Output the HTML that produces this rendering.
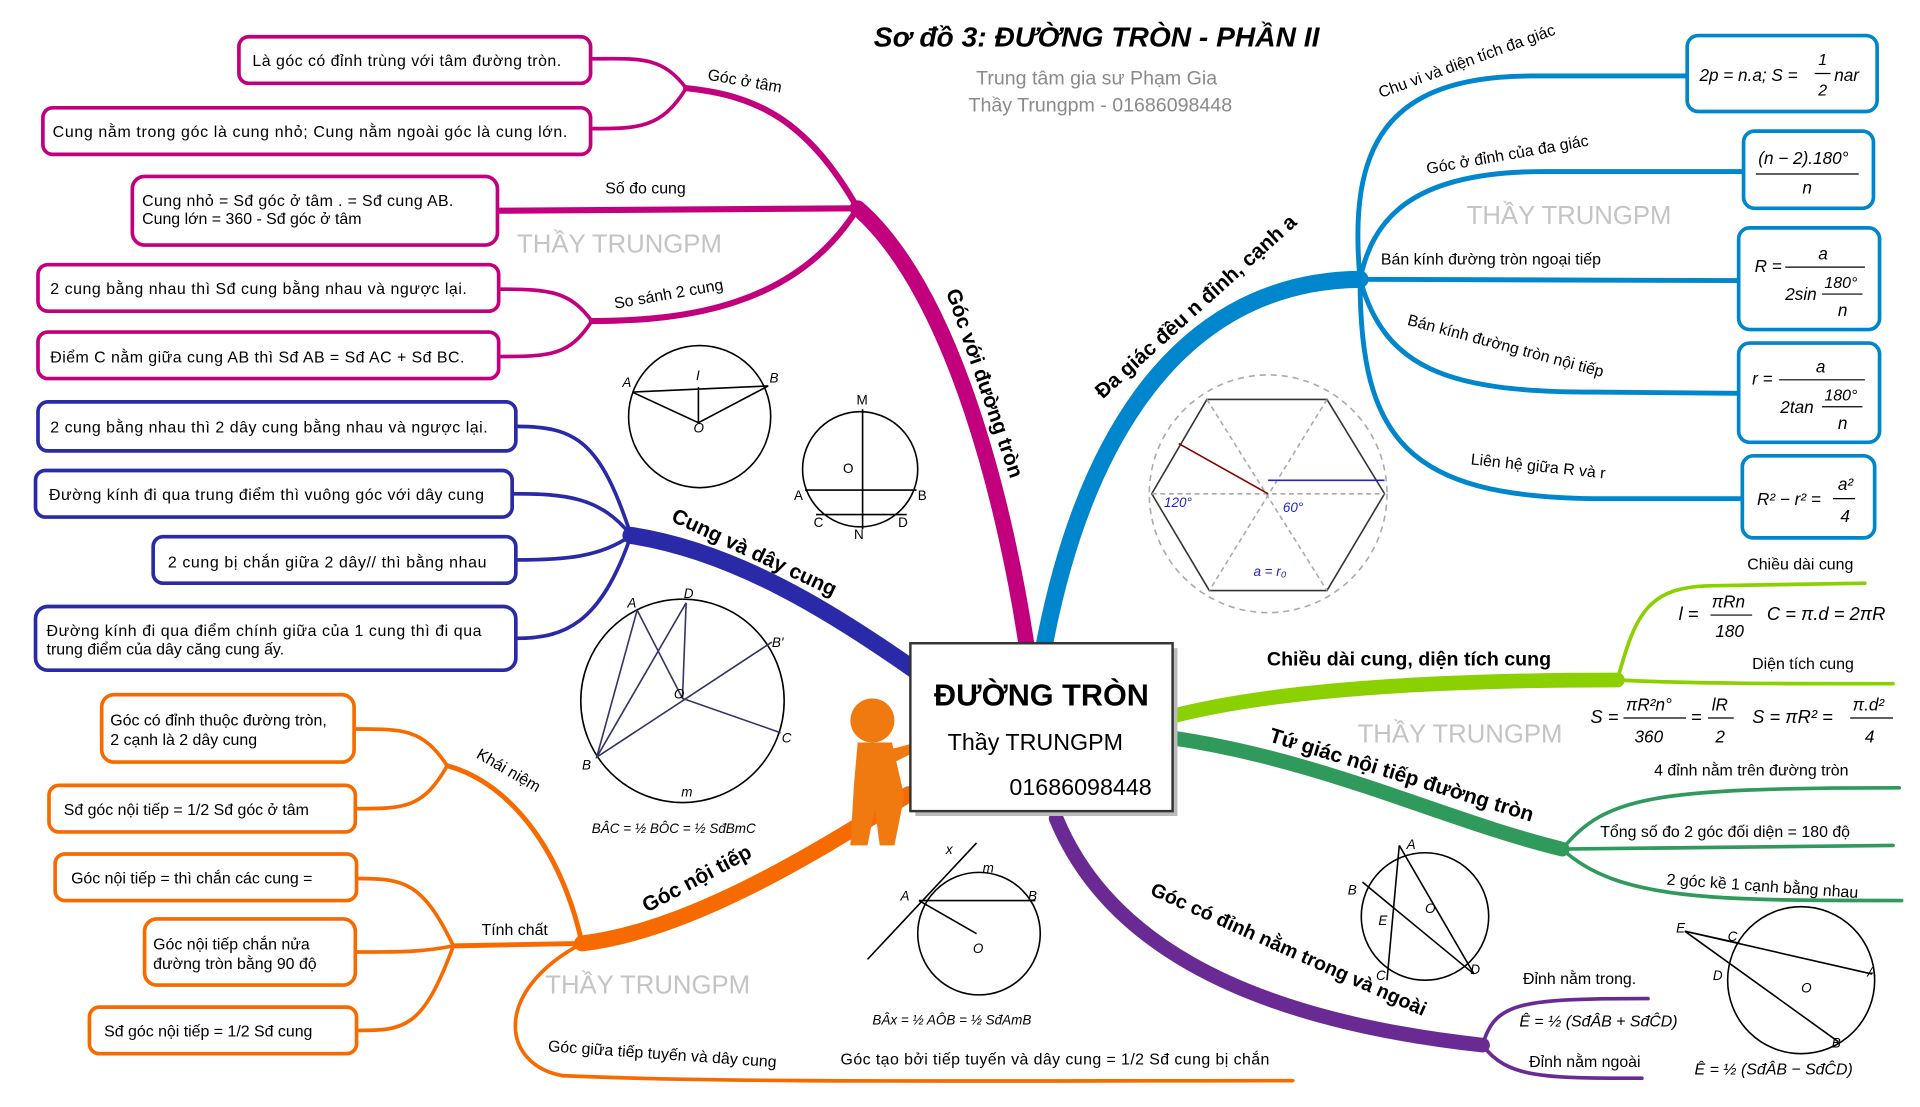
<!DOCTYPE html>
<html><head><meta charset="utf-8"><style>
html,body{margin:0;padding:0;background:#fff;}
svg{display:block}
text{font-family:"Liberation Sans",sans-serif;}
.m{font-family:"Liberation Serif",serif;font-style:italic;}
</style></head><body>
<svg width="1920" height="1107" viewBox="0 0 1567 903.5" preserveAspectRatio="none" xmlns="http://www.w3.org/2000/svg">
<rect width="1567" height="904" fill="#fff"/>
<text x="895" y="38" text-anchor="middle" font-size="23" font-weight="bold" font-style="italic">Sơ đồ 3: ĐƯỜNG TRÒN - PHẦN II</text>
<text x="895" y="69" text-anchor="middle" font-size="16" fill="#8a8a8a">Trung tâm gia sư Phạm Gia</text>
<text x="898" y="91" text-anchor="middle" font-size="16" fill="#8a8a8a">Thầy Trungpm - 01686098448</text>
<g font-size="21" fill="#c4c4c4">
<text x="422" y="206">THẦY TRUNGPM</text>
<text x="1197" y="183">THẦY TRUNGPM</text>
<text x="1108" y="606">THẦY TRUNGPM</text>
<text x="445" y="811">THẦY TRUNGPM</text>
</g>

<!-- MAGENTA -->
<g fill="none" stroke="#c2007e" stroke-linecap="round">
<path d="M 838 528 C 822 420, 780 240, 700 170" stroke-width="13"/>
<path d="M 700 170 C 660 100, 620 78, 560 72" stroke-width="5"/>
<path d="M 560 72 C 540 45, 520 48, 483 48" stroke-width="3"/>
<path d="M 560 72 C 540 105, 520 105, 483 105" stroke-width="3"/>
<path d="M 700 170 L 407 172" stroke-width="5"/>
<path d="M 700 170 C 650 250, 560 262, 483 262" stroke-width="5"/>
<path d="M 483 262 C 465 238, 450 236, 407 236" stroke-width="3"/>
<path d="M 483 262 C 465 290, 450 291, 407 291" stroke-width="3"/>
</g>
<g fill="#fff" stroke="#c2007e" stroke-width="3">
<rect x="195" y="30" width="287" height="38" rx="8"/>
<rect x="35" y="88" width="447" height="38" rx="8"/>
<rect x="108" y="144" width="298" height="56" rx="10"/>
<rect x="31" y="216" width="376" height="38" rx="8"/>
<rect x="31" y="271" width="376" height="38" rx="8"/>
</g>
<g font-size="13">
<text x="206" y="54" textLength="252">Là góc có đỉnh trùng với tâm đường tròn.</text>
<text x="43" y="112" textLength="420">Cung nằm trong góc là cung nhỏ; Cung nằm ngoài góc là cung lớn.</text>
<text x="116" y="168" textLength="254">Cung nhỏ = Sđ góc ở tâm . = Sđ cung AB.</text>
<text x="116" y="183">Cung lớn = 360 - Sđ góc ở tâm</text>
<text x="41" y="240" textLength="340">2 cung bằng nhau thì Sđ cung bằng nhau và ngược lại.</text>
<text x="41" y="296" textLength="338">Điểm C nằm giữa cung AB thì Sđ AB = Sđ AC + Sđ BC.</text>
<text x="577" y="65" transform="rotate(10 577 65)">Góc ở tâm</text>
<text x="494" y="158">Số đo cung</text>
<text x="502" y="252" transform="rotate(-10 502 252)">So sánh 2 cung</text>
</g>
<text x="772" y="238" font-size="17" font-weight="bold" transform="rotate(71 772 238)">Góc với đường tròn</text>

<!-- NAVY -->
<g fill="none" stroke="#2a2aa8" stroke-linecap="round">
<path d="M 748 548 C 680 500, 600 450, 515 437" stroke-width="14"/>
<path d="M 515 437 C 490 360, 470 348, 421 348" stroke-width="3"/>
<path d="M 515 437 C 490 405, 460 403, 418 403" stroke-width="3"/>
<path d="M 515 437 C 490 455, 460 457, 421 457" stroke-width="3"/>
<path d="M 515 437 C 490 510, 460 521, 421 521" stroke-width="3"/>
</g>
<g fill="#fff" stroke="#2a2aa8" stroke-width="3">
<rect x="31" y="328" width="390" height="40" rx="8"/>
<rect x="29" y="384" width="389" height="38" rx="8"/>
<rect x="125" y="438" width="296" height="38" rx="8"/>
<rect x="29" y="495" width="392" height="52" rx="10"/>
</g>
<g font-size="13">
<text x="41" y="353" textLength="357">2 cung bằng nhau thì 2 dây cung bằng nhau và ngược lại.</text>
<text x="40" y="408" textLength="355">Đường kính đi qua trung điểm thì vuông góc với dây cung</text>
<text x="137" y="463" textLength="260">2 cung bị chắn giữa 2 dây// thì bằng nhau</text>
<text x="38" y="519" textLength="355">Đường kính đi qua điểm chính giữa của 1 cung thì đi qua</text>
<text x="38" y="534">trung điểm của dây căng cung ấy.</text>
</g>
<text x="547" y="425" font-size="17" font-weight="bold" transform="rotate(25 547 425)">Cung và dây cung</text>

<!-- ORANGE -->
<g fill="none" stroke="#f76a00" stroke-linecap="round">
<path d="M 742 648 C 660 700, 560 760, 475 770" stroke-width="13"/>
<path d="M 475 770 C 460 700, 420 640, 365 625" stroke-width="4"/>
<path d="M 365 625 C 345 595, 330 595, 290 595" stroke-width="3"/>
<path d="M 365 625 C 345 660, 330 660, 290 660" stroke-width="3"/>
<path d="M 475 770 L 370 772" stroke-width="4"/>
<path d="M 370 772 C 345 720, 330 717, 292 717" stroke-width="3"/>
<path d="M 370 772 C 345 777, 330 777, 290 777" stroke-width="3"/>
<path d="M 370 772 C 345 840, 330 841, 292 841" stroke-width="3"/>
<path d="M 475 770 C 400 810, 410 870, 460 878 C 600 884, 800 882, 1055 882" stroke-width="3"/>
</g>
<g fill="#fff" stroke="#f76a00" stroke-width="3">
<rect x="83" y="567" width="206" height="55" rx="10"/>
<rect x="40" y="641" width="250" height="38" rx="8"/>
<rect x="45" y="697" width="246" height="38" rx="8"/>
<rect x="118" y="750" width="172" height="54" rx="10"/>
<rect x="73" y="822" width="218" height="38" rx="8"/>
</g>
<g font-size="13">
<text x="90" y="592">Góc có đỉnh thuộc đường tròn,</text>
<text x="90" y="608">2 cạnh là 2 dây cung</text>
<text x="52" y="665">Sđ góc nội tiếp = 1/2 Sđ góc ở tâm</text>
<text x="58" y="721">Góc nội tiếp = thì chắn các cung =</text>
<text x="125" y="775">Góc nội tiếp chắn nửa</text>
<text x="125" y="791">đường tròn bằng 90 độ</text>
<text x="85" y="846">Sđ góc nội tiếp = 1/2 Sđ cung</text>
<text x="388" y="618" transform="rotate(30 388 618)">Khái niệm</text>
<text x="393" y="763">Tính chất</text>
<text x="447" y="858" transform="rotate(4 447 858)">Góc giữa tiếp tuyến và dây cung</text>
<text x="686" y="869" textLength="350">Góc tạo bởi tiếp tuyến và dây cung = 1/2 Sđ cung bị chắn</text>
</g>
<text x="528" y="745" font-size="17" font-weight="bold" transform="rotate(-28 528 745)">Góc nội tiếp</text>

<!-- BLUE RIGHT -->
<g fill="none" stroke="#0086cc" stroke-linecap="round">
<path d="M 852 528 C 880 380, 950 230, 1110 228" stroke-width="14"/>
<path d="M 1110 228 C 1100 120, 1130 62, 1250 62 L 1377 62" stroke-width="4"/>
<path d="M 1110 228 C 1120 180, 1150 140, 1260 140 L 1423 140" stroke-width="4"/>
<path d="M 1110 228 L 1419 229" stroke-width="4"/>
<path d="M 1110 228 C 1130 300, 1180 320, 1300 320 L 1419 321" stroke-width="4"/>
<path d="M 1110 228 C 1110 360, 1150 405, 1300 407 L 1422 407" stroke-width="4"/>
</g>
<g fill="#fff" stroke="#0086cc" stroke-width="3">
<rect x="1377" y="29" width="155" height="62" rx="9"/>
<rect x="1423" y="107" width="106" height="63" rx="9"/>
<rect x="1419" y="186" width="115" height="83" rx="9"/>
<rect x="1419" y="280" width="115" height="81" rx="9"/>
<rect x="1422" y="372" width="108" height="67" rx="9"/>
</g>
<g font-size="13">
<text x="1127" y="80" transform="rotate(-20 1127 80)">Chu vi và diện tích đa giác</text>
<text x="1165" y="142" transform="rotate(-10 1165 142)">Góc ở đỉnh của đa giác</text>
<text x="1127" y="216">Bán kính đường tròn ngoại tiếp</text>
<text x="1148" y="265" transform="rotate(15 1148 265)">Bán kính đường tròn nội tiếp</text>
<text x="1200" y="379" transform="rotate(6 1200 379)">Liên hệ giữa R và r</text>
</g>
<text x="900" y="326" font-size="17" font-weight="bold" transform="rotate(-42 900 326)">Đa giác đều n đỉnh, cạnh a</text>
<g class="m" font-size="14" fill="#000">
<text x="1387" y="66">2p = n.a; S = </text>
<text x="1484" y="53" font-size="13">1</text><line x1="1481" y1="60" x2="1494" y2="60" stroke="#000"/>
<text x="1484" y="78" font-size="13">2</text><text x="1497" y="66">nar</text>
<text x="1435" y="134">(n − 2).180°</text><line x1="1433" y1="142" x2="1517" y2="142" stroke="#000"/>
<text x="1471" y="158">n</text>
<text x="1432" y="222">R =</text><line x1="1457" y1="218" x2="1522" y2="218" stroke="#000"/>
<text x="1484" y="212">a</text><text x="1457" y="245">2sin</text><text x="1489" y="235" font-size="13">180°</text>
<line x1="1487" y1="240" x2="1520" y2="240" stroke="#000"/><text x="1500" y="258">n</text>
<text x="1430" y="314">r =</text><line x1="1452" y1="310" x2="1522" y2="310" stroke="#000"/>
<text x="1482" y="304">a</text><text x="1453" y="337">2tan</text><text x="1489" y="327" font-size="13">180°</text>
<line x1="1487" y1="332" x2="1520" y2="332" stroke="#000"/><text x="1500" y="350">n</text>
<text x="1434" y="412">R² − r² =</text><text x="1500" y="400">a²</text><line x1="1496" y1="407" x2="1514" y2="407" stroke="#000"/><text x="1502" y="426">4</text>
</g>

<!-- LIME -->
<g fill="none" stroke="#8bd000" stroke-linecap="round">
<path d="M 955 585 C 1050 560, 1200 555, 1320 555" stroke-width="12"/>
<path d="M 1320 555 C 1335 500, 1345 478, 1400 478 L 1522 476" stroke-width="3"/>
<path d="M 1320 555 C 1380 558, 1450 558, 1545 558" stroke-width="3"/>
</g>
<text x="1034" y="543" font-size="16" font-weight="bold">Chiều dài cung, diện tích cung</text>
<g font-size="13"><text x="1426" y="465">Chiều dài cung</text><text x="1430" y="546">Diện tích cung</text></g>
<g class="m" font-size="15">
<text x="1370" y="506">l =</text><text x="1397" y="496" font-size="14">πRn</text><line x1="1396" y1="502" x2="1430" y2="502" stroke="#000"/><text x="1400" y="520" font-size="14">180</text>
<text x="1442" y="506">C = π.d = 2πR</text>
<text x="1298" y="590">S =</text><text x="1327" y="580" font-size="14">πR²n°</text><line x1="1325" y1="586" x2="1376" y2="586" stroke="#000"/><text x="1334" y="606" font-size="14">360</text>
<text x="1380" y="590">=</text><text x="1397" y="580" font-size="14">lR</text><line x1="1394" y1="586" x2="1415" y2="586" stroke="#000"/><text x="1400" y="606" font-size="14">2</text>
<text x="1430" y="590">S = πR² =</text><text x="1512" y="580" font-size="14">π.d²</text><line x1="1510" y1="586" x2="1545" y2="586" stroke="#000"/><text x="1522" y="606" font-size="14">4</text>
</g>

<!-- DARK GREEN -->
<g fill="none" stroke="#2f9a5c" stroke-linecap="round">
<path d="M 955 602 C 1080 620, 1180 670, 1275 693" stroke-width="12"/>
<path d="M 1275 693 C 1310 650, 1350 643, 1550 643" stroke-width="3"/>
<path d="M 1275 693 L 1545 690" stroke-width="3"/>
<path d="M 1275 693 C 1320 735, 1400 735, 1552 735" stroke-width="3"/>
</g>
<text x="1035" y="605" font-size="17" font-weight="bold" transform="rotate(17 1035 605)">Tứ giác nội tiếp đường tròn</text>
<g font-size="13">
<text x="1350" y="633">4 đỉnh nằm trên đường tròn</text>
<text x="1306" y="683">Tổng số đo 2 góc đối diện = 180 độ</text>
<text x="1360" y="722" transform="rotate(4 1360 722)">2 góc kề 1 cạnh bằng nhau</text>
</g>

<!-- PURPLE -->
<g fill="none" stroke="#6a2a94" stroke-linecap="round">
<path d="M 862 668 C 900 760, 1000 830, 1210 853" stroke-width="12"/>
<path d="M 1210 853 C 1220 818, 1240 815, 1345 815" stroke-width="3"/>
<path d="M 1210 853 C 1230 880, 1260 880, 1340 880" stroke-width="3"/>
</g>
<text x="938" y="730" font-size="16" font-weight="bold" transform="rotate(24 938 730)">Góc có đỉnh nằm trong và ngoài</text>
<g font-size="13"><text x="1243" y="803">Đỉnh nằm trong.</text><text x="1248" y="871">Đỉnh nằm ngoài</text></g>
<g class="m" font-size="13">
<text x="1240" y="838">Ê = ½ (SđÂB + SđĈD)</text>
<text x="1383" y="877">Ê = ½ (SđÂB − SđĈD)</text>
</g>

<!-- diagrams -->
<g fill="none" stroke="#000" stroke-width="1.3">
<circle cx="571" cy="340" r="58"/>
<path d="M 516 320 L 627 315 M 516 320 L 570 345 L 627 315 M 570 345 L 570 316"/>
<circle cx="702" cy="383" r="47"/>
<path d="M 704 334 L 704 432 M 657 400 L 748 400 M 666 420 L 740 420"/>
<circle cx="557" cy="572" r="83"/>
<path d="M 520 498 L 487 618 L 630 524 M 560 492 L 487 618 M 520 498 L 557 570 L 637 598 M 560 492 L 557 570" stroke="#336"/>
<polygon points="985,326 1083,326 1130,403 1083,482 987,482 940,403" stroke="#333"/>
<circle cx="1035" cy="403" r="97" stroke="#aaa" stroke-dasharray="5 4"/>
<path d="M 940 403 L 1130 403 M 985 326 L 1083 482 M 1083 326 L 987 482" stroke="#aaa" stroke-dasharray="4 3"/>
<path d="M 1035 392 L 1130 392" stroke="#22c" />
<path d="M 1035 403 L 962 362" stroke="#800"/>
<circle cx="799" cy="762" r="50"/>
<path d="M 708 783 L 797 688 M 750 735 L 845 735 M 750 735 L 797 762"/>
<circle cx="1163" cy="748" r="52"/>
<path d="M 1142 690 L 1132 800 M 1112 720 L 1203 795 M 1142 690 L 1203 795"/>
<circle cx="1470" cy="800" r="60"/>
<path d="M 1375 760 L 1528 795 M 1375 760 L 1500 850 M 1375 760 L 1420 770"/>
</g>
<g class="m" font-size="11">
<text x="508" y="316">A</text><text x="628" y="312">B</text><text x="566" y="353">O</text><text x="568" y="310">I</text>
<text x="699" y="330" font-style="normal">M</text><text x="688" y="386" font-style="normal">O</text><text x="648" y="408" font-style="normal">A</text><text x="749" y="408" font-style="normal">B</text><text x="664" y="430" font-style="normal">C</text><text x="697" y="440" font-style="normal">N</text><text x="733" y="430" font-style="normal">D</text>
<text x="512" y="496">A</text><text x="558" y="488">D</text><text x="630" y="528">B'</text><text x="550" y="570">O</text><text x="638" y="606">C</text><text x="475" y="628">B</text><text x="556" y="650">m</text>
<text x="950" y="414" fill="#22c">120°</text><text x="1047" y="418" fill="#22c">60°</text><text x="1023" y="470" fill="#22c">a = r₀</text>
<text x="772" y="697">x</text><text x="802" y="712">m</text><text x="735" y="735">A</text><text x="839" y="735">B</text><text x="794" y="778">O</text>
<text x="1148" y="693">A</text><text x="1100" y="730">B</text><text x="1125" y="755">E</text><text x="1163" y="745">O</text><text x="1123" y="800">C</text><text x="1200" y="795">D</text>
<text x="1368" y="761">E</text><text x="1410" y="768">C</text><text x="1398" y="800">D</text><text x="1524" y="797">A</text><text x="1495" y="855">B</text><text x="1470" y="810">O</text>
<text x="483" y="680">BÂC = ½ BÔC = ½ SđBmC</text>
<text x="712" y="836">BÂx = ½ AÔB = ½ SđAmB</text>
</g>

<g fill="#f07a10">
<circle cx="712" cy="588" r="18"/>
<path d="M 700 606 L 728 606 L 738 650 L 730 690 L 718 690 L 714 660 L 708 690 L 694 690 L 697 640 Z"/>
<path d="M 725 612 L 748 606 L 750 612 L 730 622 Z"/>
</g>
<rect x="747" y="529" width="214" height="137" fill="#bbb"/>
<rect x="743" y="525" width="214" height="137" fill="#fff" stroke="#333" stroke-width="2"/>
<text x="850" y="576" text-anchor="middle" font-size="25" font-weight="bold">ĐƯỜNG TRÒN</text>
<text x="845" y="612" text-anchor="middle" font-size="19">Thầy TRUNGPM</text>
<text x="940" y="649" text-anchor="end" font-size="19">01686098448</text>
</svg>
</body></html>
